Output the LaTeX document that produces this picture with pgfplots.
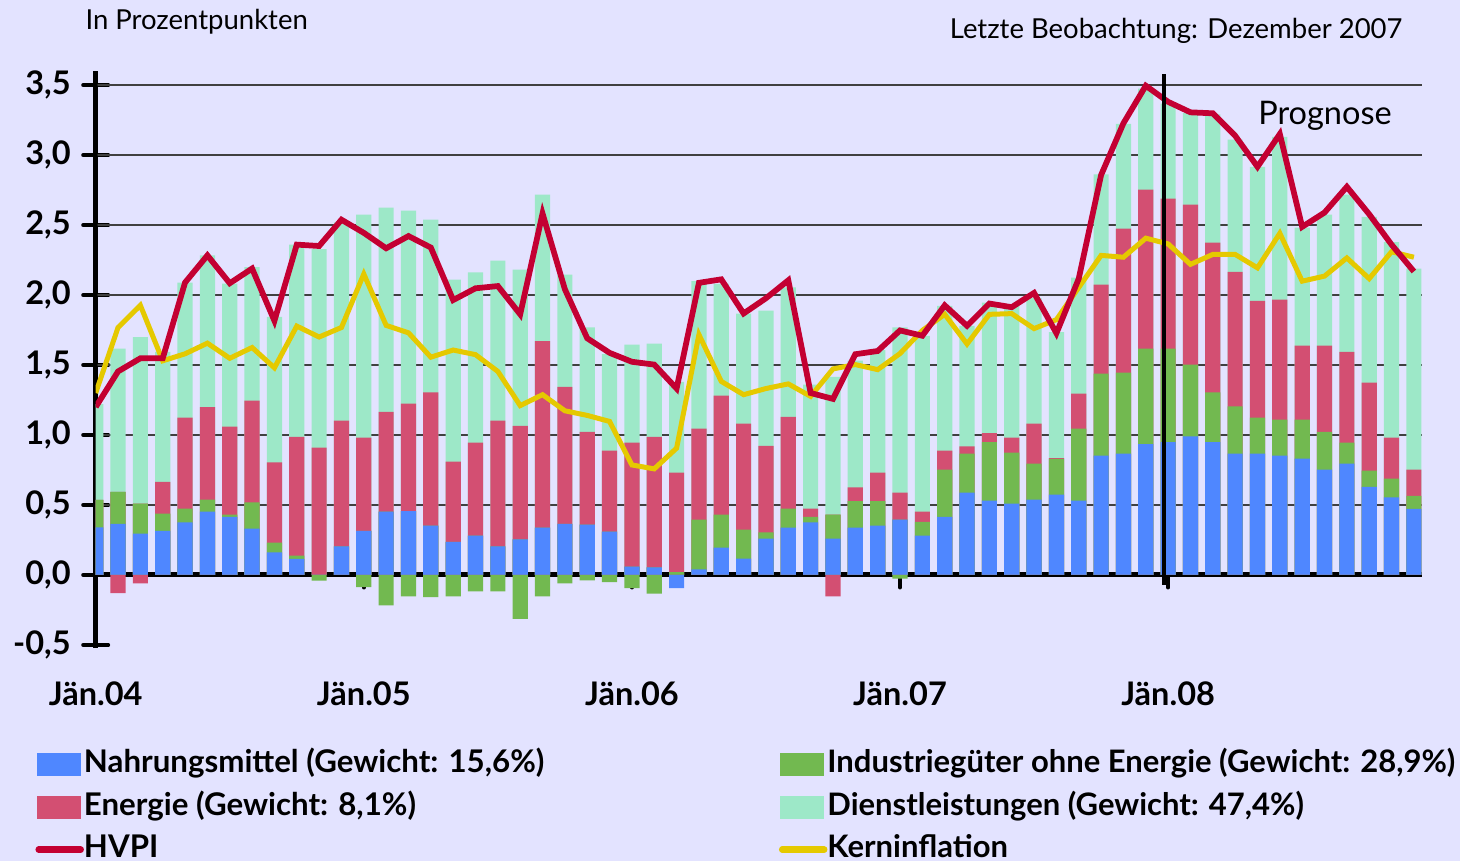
\documentclass[border=0pt]{standalone}
\usepackage{pgfplots}
\pgfplotsset{compat=1.18}
\usepackage{pgfplotstable}
\usepackage{fontspec}
\setmainfont{Lato}

\definecolor{bgcol}{RGB}{227,227,255}
\definecolor{cBl}{RGB}{79,135,255}
\definecolor{cGr}{RGB}{114,185,80}
\definecolor{cEn}{RGB}{211,79,114}
\definecolor{cDi}{RGB}{157,232,200}
\definecolor{cHv}{RGB}{195,0,50}
\definecolor{cKe}{RGB}{229,201,0}
\pagecolor{bgcol}

\pgfplotsset{
  layers/barsfirst/.define layer set={
    axis background,axis grid,pre main,main,axis ticks,axis lines,
    axis tick labels,axis descriptions,axis foreground}{},
}

% tops of the stacked segments (bl, gr, en, di), negative parts, lines
\pgfplotstableread{
i  bl    gr    en    di    nbl    ngr    nen    hvpi  kern
0  0.34  0.536 0.536 1.22  0      0      0      1.20  1.30
1  0.365 0.594 0.594 1.617 0      0      -0.13  1.454 1.768
2  0.296 0.51  0.51  1.70  0      0      -0.06  1.548 1.926
3  0.316 0.439 0.666 1.594 0      0      0      1.548 1.53
4  0.375 0.474 1.125 2.089 0      0      0      2.089 1.58
5  0.452 0.538 1.20  2.283 0      0      0      2.283 1.656
6  0.416 0.431 1.059 2.082 0      0      0      2.084 1.548
7  0.332 0.518 1.245 2.20  0      0      0      2.189 1.625
8  0.161 0.232 0.804 1.844 0      0      0      1.816 1.48
9  0.115 0.138 0.987 2.36  0      0      0      2.36  1.778
10 0     0     0.91  2.327 0      -0.04  0      2.35  1.70
11 0.204 0.204 1.102 2.518 0      0      0      2.538 1.768
12 0.316 0.316 0.982 2.574 0      -0.087 0      2.444 2.15
13 0.452 0.452 1.166 2.625 0      -0.217 0      2.334 1.783
14 0.457 0.457 1.224 2.602 0      -0.153 0      2.421 1.73
15 0.352 0.352 1.304 2.538 0      -0.158 0      2.339 1.556
16 0.237 0.237 0.809 2.11  0      -0.153 0      1.964 1.607
17 0.281 0.281 0.946 2.161 0      -0.117 0      2.048 1.574
18 0.204 0.204 1.102 2.245 0      -0.117 0      2.064 1.454
19 0.255 0.255 1.066 2.181 0      -0.314 0      1.862 1.21
20 0.339 0.339 1.671 2.717 0      -0.153 0      2.582 1.288
21 0.365 0.365 1.344 2.145 0      -0.059 0      2.041 1.173
22 0.36  0.36  1.023 1.768 0      -0.038 0      1.691 1.14
23 0.309 0.309 0.888 1.577 0      -0.051 0      1.587 1.097
24 0.059 0.059 0.946 1.645 0      -0.094 0      1.523 0.786
25 0.054 0.054 0.987 1.653 0      -0.133 0      1.503 0.758
26 0     0.02  0.732 1.38  -0.094 0      0      1.332 0.906
27 0.04  0.395 1.046 2.10  0      0      0      2.087 1.717
28 0.196 0.431 1.281 2.08  0      0      0      2.112 1.383
29 0.117 0.324 1.082 1.867 0      0      0      1.868 1.288
30 0.26  0.304 0.923 1.888 0      0      0      1.977 1.332
31 0.339 0.474 1.13  2.054 0      0      0      2.105 1.365
32 0.375 0.416 0.474 1.36  0      0      0      1.30  1.276
33 0.26  0.431 0.431 1.416 0      0      -0.153 1.258 1.472
34 0.339 0.528 0.625 1.531 0      0      0      1.577 1.503
35 0.352 0.528 0.732 1.607 0      0      0      1.60  1.467
36 0.395 0.395 0.589 1.768 0      -0.026 0      1.747 1.582
37 0.281 0.38  0.452 1.709 0      0      0      1.709 1.747
38 0.416 0.753 0.888 1.923 0      0      0      1.926 1.862
39 0.589 0.867 0.918 1.78  0      0      0      1.78  1.65
40 0.531 0.949 1.013 1.946 0      0      0      1.939 1.862
41 0.51  0.875 0.982 1.921 0      0      0      1.913 1.867
42 0.538 0.796 1.082 1.977 0      0      0      2.015 1.76
43 0.574 0.829 0.834 1.735 0      0      0      1.727 1.824
44 0.531 1.046 1.296 2.125 0      0      0      2.117 2.054
45 0.852 1.439 2.074 2.862 0      0      0      2.857 2.283
46 0.867 1.446 2.474 3.222 0      0      0      3.227 2.27
47 0.934 1.617 2.753 3.474 0      0      0      3.495 2.406
48 0.949 1.617 2.689 3.367 0      0      0      3.38  2.365
49 0.99  1.503 2.645 3.30  0      0      0      3.305 2.219
50 0.949 1.304 2.375 3.29  0      0      0      3.298 2.29
51 0.867 1.204 2.166 3.11  0      0      0      3.138 2.29
52 0.867 1.125 1.959 2.916 0      0      0      2.916 2.194
53 0.852 1.11  1.967 3.13  0      0      0      3.15  2.441
54 0.832 1.11  1.638 2.482 0      0      0      2.487 2.099
55 0.753 1.023 1.638 2.574 0      0      0      2.589 2.135
56 0.796 0.946 1.594 2.717 0      0      0      2.773 2.265
57 0.63  0.745 1.375 2.559 0      0      0      2.577 2.117
58 0.554 0.689 0.982 2.378 0      0      0      2.36  2.309
59 0.472 0.566 0.753 2.189 0      0      0      2.168 2.27
}\data

\begin{document}
\begin{tikzpicture}
\begin{axis}[
  at={(38.28pt,85.28pt)}, anchor=south west,
  scale only axis,
  width=530.4pt, height=230.7pt,
  set layers=barsfirst,
  xmin=0, xmax=59.35,
  ymin=-0.52, ymax=3.6,
  axis y line=left,
  axis x line=middle,
  hide obscured x ticks=false,
  axis line style={line width=2pt, black, -},
  xtick={0,12,24,36,48},
  xticklabels={Jän.04,Jän.05,Jän.06,Jän.07,Jän.08},
  ytick={-0.5,0,0.5,1,1.5,2,2.5,3,3.5},
  extra y ticks={0.5,1,1.5,2,2.5,3,3.5},
  extra y tick labels={},
  extra y tick style={grid=major, major tick length=0pt},
  major grid style={draw=black!75, line width=0.6pt},
  tick align=center,
  major tick length=10pt,
  tick style={black, line width=1.6pt, line cap=round},
  y tick label style={font=\bfseries\fontsize{13}{13}\selectfont, xshift=-1.5pt,
    /pgf/number format/fixed, /pgf/number format/fixed zerofill,
    /pgf/number format/precision=1, /pgf/number format/use comma,
    /pgf/number format/assume math mode=true},
  x tick label style={font=\bfseries\fontsize{13}{13}\selectfont,
    anchor=center, yshift=-42.5pt},
  legend columns=2,
  legend cell align=left,
  legend style={draw=none, fill=none, inner sep=0pt,
    at={(-0.0458,-0.1768)}, anchor=north west,
    font=\bfseries\fontsize{12.5}{14}\selectfont,
    row sep=5.5pt, column sep=0pt,
    nodes={inner xsep=0pt, inner ysep=0pt, text height=9pt, text depth=2.5pt}},
]
\addplot[ybar, bar width=0.68, bar shift=0pt, fill=cDi, draw=none, forget plot] table[x=i, y=di] {\data};
\addplot[ybar, bar width=0.68, bar shift=0pt, fill=cEn, draw=none, forget plot] table[x=i, y=en] {\data};
\addplot[ybar, bar width=0.68, bar shift=0pt, fill=cGr, draw=none, forget plot] table[x=i, y=gr] {\data};
\addplot[ybar, bar width=0.68, bar shift=0pt, fill=cBl, draw=none, forget plot] table[x=i, y=bl] {\data};
\addplot[ybar, bar width=0.68, bar shift=0pt, fill=cBl, draw=none, forget plot] table[x=i, y=nbl] {\data};
\addplot[ybar, bar width=0.68, bar shift=0pt, fill=cGr, draw=none, forget plot] table[x=i, y=ngr] {\data};
\addplot[ybar, bar width=0.68, bar shift=0pt, fill=cEn, draw=none, forget plot] table[x=i, y=nen] {\data};
\addplot[cKe, line width=2.0pt, mark=none, forget plot] table[x=i, y=kern] {\data};
\addplot[cHv, line width=2.3pt, mark=none, forget plot] table[x=i, y=hvpi] {\data};
\draw[black, line width=1.6pt] (axis cs:47.8,-0.07) -- (axis cs:47.8,3.58);

\addlegendimage{legend image code/.code={\fill[cBl] (0pt,-4.4pt) rectangle (17.2pt,4.4pt);}}
\addlegendentry{\makebox[278pt][l]{Nahrungsmittel (Gewicht: 15,6\%)}}
\addlegendimage{legend image code/.code={\fill[cGr] (0pt,-4.4pt) rectangle (17.2pt,4.4pt);}}
\addlegendentry{\fontsize{12.4}{14}\selectfont Industriegüter ohne Energie (Gewicht: 28,9\%)}
\addlegendimage{legend image code/.code={\fill[cEn] (0pt,-4.4pt) rectangle (17.2pt,4.4pt);}}
\addlegendentry{\makebox[278pt][l]{Energie (Gewicht: 8,1\%)}}
\addlegendimage{legend image code/.code={\fill[cDi] (0pt,-4.4pt) rectangle (17.2pt,4.4pt);}}
\addlegendentry{\fontsize{12.4}{14}\selectfont Dienstleistungen (Gewicht: 47,4\%)}
\addlegendimage{legend image code/.code={\draw[cHv, line width=2.6pt, line cap=round] (0.6pt,0pt) -- (17.4pt,0pt);}}
\addlegendentry{\makebox[278pt][l]{HVPI}}
\addlegendimage{legend image code/.code={\draw[cKe, line width=2.6pt, line cap=round] (0.6pt,0pt) -- (17.4pt,0pt);}}
\addlegendentry{\fontsize{12.4}{14}\selectfont Kerninflation}
\end{axis}
\node[anchor=west, inner sep=0pt, font=\fontsize{11}{11}\selectfont] at (34pt,335.6pt) {In Prozentpunkten};
\node[anchor=east, inner sep=0pt, font=\fontsize{11}{11}\selectfont] at (561.2pt,332.2pt) {Letzte Beobachtung: Dezember 2007};
\node[inner sep=0pt, font=\fontsize{13}{13}\selectfont] at (530pt,298.2pt) {Prognose};
\pgfresetboundingbox
\useasboundingbox (0,0) rectangle (584pt,344.4pt);
\end{tikzpicture}
\end{document}
